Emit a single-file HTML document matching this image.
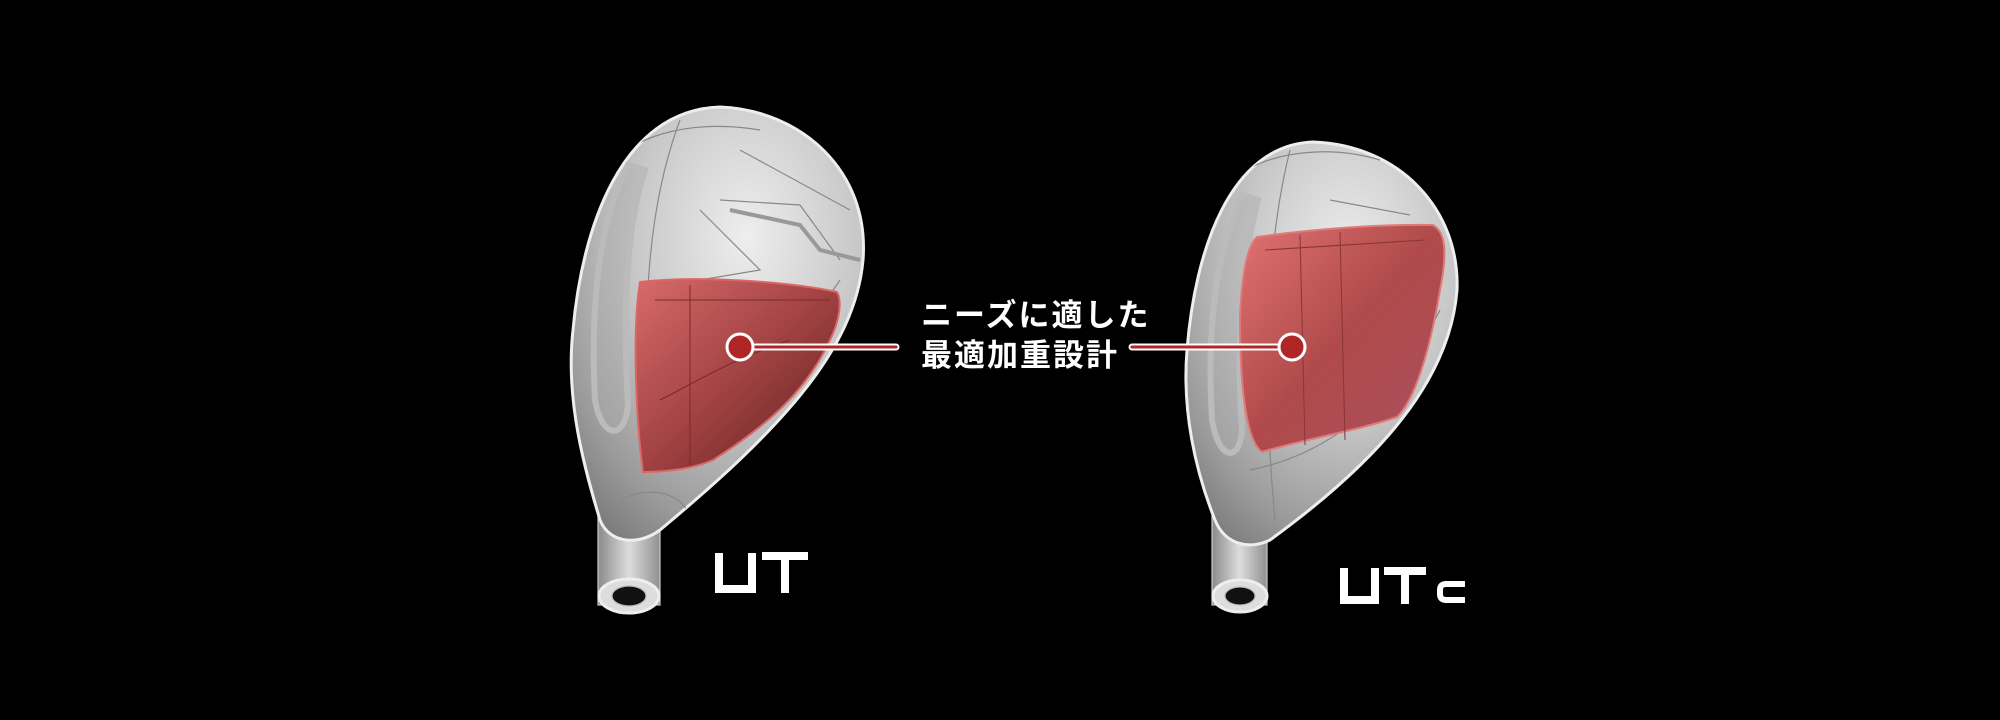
<!DOCTYPE html>
<html><head><meta charset="utf-8"><style>
html,body{margin:0;padding:0;background:#000;}
body{width:2000px;height:720px;overflow:hidden;position:relative;}
.t{position:absolute;color:#fff;font-family:"Liberation Sans","Noto Sans CJK JP",sans-serif;font-weight:700;}
</style></head><body>
<svg width="2000" height="720" viewBox="0 0 2000 720" style="position:absolute;left:0;top:0">
<defs>
<radialGradient id="hg" cx="0.6" cy="0.3" r="0.85">
<stop offset="0" stop-color="#eeeeee"/><stop offset="0.45" stop-color="#c8c8c8"/><stop offset="0.8" stop-color="#9a9a9a"/><stop offset="1" stop-color="#777"/>
</radialGradient>
<linearGradient id="rg" x1="0" y1="0" x2="1" y2="1">
<stop offset="0" stop-color="#d86a6a"/><stop offset="0.5" stop-color="#a24242"/><stop offset="1" stop-color="#5a1e1e"/>
</linearGradient>
<linearGradient id="rg2" x1="0" y1="0" x2="1" y2="1">
<stop offset="0" stop-color="#e07272"/><stop offset="0.5" stop-color="#b04a4a"/><stop offset="1" stop-color="#a85060"/>
</linearGradient>
<linearGradient id="hos" x1="0" x2="1">
<stop offset="0" stop-color="#8a8a8a"/><stop offset="0.5" stop-color="#dddddd"/><stop offset="1" stop-color="#909090"/>
</linearGradient>
<clipPath id="cl"><path d="M720,107 C800,110 870,170 863,260 C855,350 780,430 660,530 C640,545 610,545 600,520 C585,470 565,400 573,330 C582,230 620,110 720,107 Z"/></clipPath>
<clipPath id="cr"><path d="M1313,142 C1400,145 1460,210 1457,290 C1450,380 1380,460 1270,540 C1250,550 1225,545 1215,520 C1195,470 1182,410 1187,350 C1195,250 1230,145 1313,142 Z"/></clipPath>
</defs>
<!-- LEFT HEAD -->
<g stroke="#888" stroke-width="1.2" fill="none">
<rect x="598" y="505" width="62" height="100" fill="url(#hos)" stroke="#ccc"/>
<ellipse cx="629" cy="596" rx="30" ry="17" fill="#ddd" stroke="#eee" stroke-width="3"/>
<ellipse cx="629" cy="596" rx="17" ry="10" fill="#111" stroke="#bbb"/>
<path d="M720,107 C800,110 870,170 863,260 C855,350 780,430 660,530 C640,545 610,545 600,520 C585,470 565,400 573,330 C582,230 620,110 720,107 Z" fill="url(#hg)" stroke="#eee" stroke-width="3"/>
<g clip-path="url(#cl)">
<path d="M628,165 C600,220 590,300 595,400 C602,440 625,440 628,405 C622,300 628,220 645,170 Z" stroke="#bbb" stroke-width="6" fill="#aaa" fill-opacity="0.4"/>
<path d="M740,150 L850,210 M700,210 L760,270 L700,280 M720,200 L800,205 L840,260 M660,460 C700,420 760,400 840,280 M680,120 C650,200 640,300 650,460 M620,500 C660,480 700,500 690,540 M600,170 C640,130 700,120 760,130"/>
<path d="M730,210 L800,225 L820,250 L860,260" stroke="#999" stroke-width="4"/>
</g>
<path d="M640,282 C700,275 790,282 837,292 C842,300 840,320 830,340 C805,395 760,430 713,460 C690,470 660,472 643,472 C636,420 632,330 640,282 Z" fill="url(#rg)" stroke="#d66" stroke-width="2"/>
<path d="M655,300 L830,300 M690,285 L690,465 M660,400 C700,380 730,360 790,340" stroke="#7a2a2a" stroke-width="1"/>
</g>
<!-- RIGHT HEAD -->
<g stroke="#888" stroke-width="1.2" fill="none">
<rect x="1212" y="505" width="55" height="100" fill="url(#hos)" stroke="#ccc"/>
<ellipse cx="1240" cy="596" rx="27" ry="16" fill="#ddd" stroke="#eee" stroke-width="3"/>
<ellipse cx="1240" cy="596" rx="15" ry="9" fill="#111" stroke="#bbb"/>
<path d="M1313,142 C1400,145 1460,210 1457,290 C1450,380 1380,460 1270,540 C1250,550 1225,545 1215,520 C1195,470 1182,410 1187,350 C1195,250 1230,145 1313,142 Z" fill="url(#hg)" stroke="#eee" stroke-width="3"/>
<g clip-path="url(#cr)">
<path d="M1242,195 C1218,250 1206,320 1212,420 C1219,462 1240,462 1242,430 C1236,340 1242,260 1258,200 Z" stroke="#bbb" stroke-width="6" fill="#aaa" fill-opacity="0.4"/>
<path d="M1290,150 C1265,250 1262,380 1275,520 M1330,200 L1410,215 M1250,470 C1300,460 1380,430 1440,310 M1230,180 C1270,150 1330,145 1380,160"/>
</g>
<path d="M1257,237 C1320,228 1390,224 1433,225 C1445,232 1448,250 1440,290 C1430,350 1415,400 1397,417 C1360,430 1300,440 1262,452 C1245,440 1240,380 1240,317 C1242,270 1248,245 1257,237 Z" fill="url(#rg2)" stroke="#e07a7a" stroke-width="2"/>
<path d="M1265,250 L1425,240 M1300,235 L1305,445 M1340,232 L1345,440" stroke="#8a3535" stroke-width="1"/>
</g>
<!-- connectors -->
<g>
<line x1="740" y1="347" x2="896" y2="347" stroke="#fff" stroke-width="7" stroke-linecap="round"/>
<line x1="740" y1="347" x2="896" y2="347" stroke="#b02525" stroke-width="3" stroke-linecap="round"/>
<circle cx="740" cy="347" r="13" fill="#b02525" stroke="#fff" stroke-width="3"/>
<line x1="1132" y1="347" x2="1292" y2="347" stroke="#fff" stroke-width="7" stroke-linecap="round"/>
<line x1="1132" y1="347" x2="1292" y2="347" stroke="#b02525" stroke-width="3" stroke-linecap="round"/>
<circle cx="1292" cy="347" r="13" fill="#b02525" stroke="#fff" stroke-width="3"/>
</g>
<!-- UT labels -->
<g fill="none" stroke="#fff" stroke-width="8">
<path d="M719,553 V589 H752 V553"/>
<path d="M762,556 H808 M785,556 V593"/>
<path d="M1344,568 V600 H1375 V568"/>
<path d="M1384,571 H1426 M1405,571 V604"/>
<path d="M1465,584 H1446 Q1440,584 1440,590 V594 Q1440,600 1446,600 H1465" stroke-width="6"/>
</g>
</svg>
<div class="t" style="left:921px;top:296px;font-size:31px;line-height:40px;letter-spacing:2px;">ニーズに適した<br>最適加重設計</div>
</body></html>
